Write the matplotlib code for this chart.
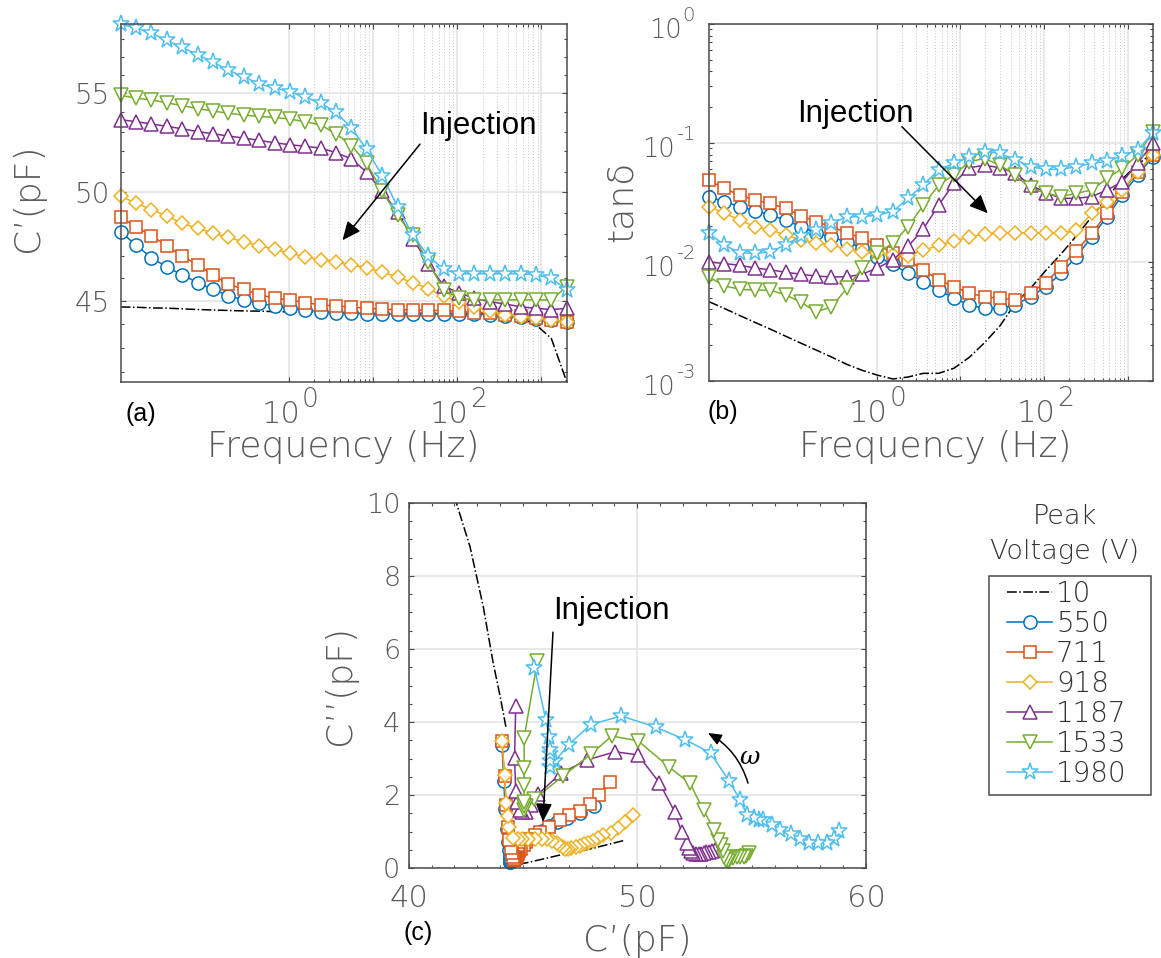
import numpy as np
import matplotlib
matplotlib.use("Agg")
import matplotlib.pyplot as plt
from matplotlib.ticker import FixedLocator, FixedFormatter, NullFormatter
from matplotlib.patches import Rectangle

plt.rcParams['font.family'] = ['DejaVu Sans']
plt.rcParams['font.weight'] = 'light'

# ---------------- data ----------------
freq = [0.01, 0.01524, 0.02321, 0.03535, 0.05385, 0.08204, 0.1250, 0.1904,
        0.2901, 0.4419, 0.6732, 1.025, 1.562, 2.379, 3.624, 5.520, 8.409,
        12.81, 19.51, 29.72, 45.28, 68.98, 105.1, 160.0, 243.8, 371.4,
        565.7, 861.8, 1313.0, 2000.0]

voltages = ['10', '550', '711', '918', '1187', '1533', '1980']

# C' (pF) versus frequency, panel (a)
cp_10 = [44.74, 44.73, 44.70, 44.69, 44.66, 44.63, 44.61, 44.59, 44.57, 44.56,
         44.54, 44.53, 44.52, 44.50, 44.49, 44.48, 44.48, 44.47, 44.47, 44.46,
         44.46, 44.45, 44.45, 44.45, 44.44, 44.40, 44.26, 43.98, 43.40, 41.62]
cp_550 = [48.11, 47.50, 46.92, 46.50, 46.15, 45.81, 45.51, 45.23, 45.05, 44.90,
          44.78, 44.68, 44.61, 44.54, 44.50, 44.47, 44.44, 44.44, 44.44, 44.44,
          44.44, 44.44, 44.44, 44.44, 44.40, 44.36, 44.30, 44.22, 44.16, 44.08]
cp_711 = [48.80, 48.34, 47.93, 47.47, 47.00, 46.61, 46.15, 45.74, 45.51, 45.28,
          45.12, 45.05, 44.93, 44.83, 44.79, 44.73, 44.69, 44.65, 44.62, 44.62,
          44.59, 44.59, 44.55, 44.50, 44.47, 44.40, 44.36, 44.26, 44.19, 44.08]
cp_918 = [49.80, 49.46, 49.16, 48.85, 48.51, 48.28, 48.05, 47.85, 47.65, 47.47,
          47.32, 47.12, 46.97, 46.82, 46.74, 46.59, 46.47, 46.28, 46.05, 45.81,
          45.54, 45.20, 44.97, 44.76, 44.55, 44.40, 44.33, 44.26, 44.19, 44.08]
cp_1187 = [53.62, 53.52, 53.40, 53.28, 53.15, 53.01, 52.90, 52.78, 52.68, 52.56,
           52.44, 52.34, 52.26, 52.17, 51.94, 51.63, 50.96, 50.03, 49.03, 47.80,
           46.64, 45.66, 45.35, 45.12, 44.97, 44.87, 44.75, 44.68, 44.63, 44.68]
cp_1533 = [54.90, 54.75, 54.66, 54.50, 54.36, 54.20, 54.07, 53.96, 53.86, 53.79,
           53.74, 53.65, 53.52, 53.35, 52.90, 52.30, 51.40, 50.03, 48.88, 47.96,
           46.73, 45.48, 45.12, 45.05, 45.05, 45.05, 45.05, 45.05, 45.05, 45.63]
cp_1980 = [58.80, 58.60, 58.30, 57.90, 57.50, 57.10, 56.70, 56.25, 55.90, 55.50,
           55.30, 55.10, 54.80, 54.50, 54.00, 53.20, 52.10, 50.80, 49.30, 47.96,
           47.00, 46.40, 46.20, 46.20, 46.20, 46.20, 46.20, 46.15, 46.00, 45.50]

# tan(delta) versus frequency, panel (b)
td_10 = [0.00464, 0.00407, 0.00355, 0.00311, 0.00273, 0.00238, 0.00208, 0.00182,
         0.00159, 0.00138, 0.00123, 0.00112, 0.00104, 0.00108, 0.00116, 0.00116,
         0.00128, 0.00158, 0.00210, 0.00290, 0.00450, 0.0060, 0.0085, 0.0117,
         0.0166, 0.024, 0.0347, 0.050, 0.066, 0.083]
td_550 = [0.0354, 0.0321, 0.0292, 0.0270, 0.0248, 0.0225, 0.0198, 0.0176, 0.0161,
          0.0148, 0.0130, 0.0111, 0.00955, 0.00803, 0.00684, 0.00582, 0.00495,
          0.00435, 0.00408, 0.00408, 0.00435, 0.00511, 0.0062, 0.00803, 0.0111,
          0.0163, 0.024, 0.0366, 0.0538, 0.0768]
td_711 = [0.0485, 0.0416, 0.0365, 0.0332, 0.0311, 0.0282, 0.0245, 0.0218, 0.0198,
          0.0176, 0.0158, 0.0139, 0.0120, 0.0104, 0.00857, 0.00706, 0.00621,
          0.00546, 0.00512, 0.00495, 0.00480, 0.00552, 0.0067, 0.00914, 0.01245,
          0.0174, 0.0256, 0.039, 0.0574, 0.0793]
td_918 = [0.0292, 0.0257, 0.0225, 0.0198, 0.0186, 0.0169, 0.0153, 0.0144, 0.0139,
          0.0128, 0.0122, 0.0118, 0.0115, 0.0113, 0.0125, 0.0138, 0.0150, 0.0162,
          0.0172, 0.0176, 0.0176, 0.0176, 0.0176, 0.0176, 0.0184, 0.0257, 0.032,
          0.0404, 0.0575, 0.0793]
td_1187 = [0.0100, 0.0097, 0.0094, 0.0089, 0.0086, 0.0082, 0.0079, 0.0076, 0.0075,
           0.0075, 0.0079, 0.0089, 0.0104, 0.0135, 0.0190, 0.0300, 0.0460, 0.0620,
           0.0650, 0.0620, 0.0556, 0.0444, 0.0383, 0.0343, 0.0343, 0.0354, 0.0403,
           0.0473, 0.0675, 0.0994]
td_1533 = [0.0075, 0.0063, 0.0059, 0.0058, 0.0058, 0.0053, 0.0046, 0.0038, 0.0042,
           0.0060, 0.0089, 0.0118, 0.0144, 0.0198, 0.0300, 0.0444, 0.0538, 0.0697,
           0.0740, 0.0650, 0.0538, 0.0416, 0.0378, 0.0354, 0.0378, 0.0403, 0.0505,
           0.0612, 0.0793, 0.1245]
td_1980 = [0.0174, 0.0139, 0.0120, 0.0118, 0.0122, 0.0139, 0.0165, 0.0186, 0.0211,
           0.0240, 0.0240, 0.0248, 0.0265, 0.0343, 0.0444, 0.0593, 0.0675, 0.0760,
           0.0845, 0.0820, 0.0720, 0.0633, 0.0600, 0.0600, 0.0633, 0.0675, 0.0700,
           0.0780, 0.0880, 0.1206]

# 10 V curve of panel (c) (C', C'')
c10_real = [49.38, 48.07, 46.60, 45.50, 44.36, np.nan, 44.25, 44.00, 43.70, 43.26,
            42.68, 42.08]
c10_imag = [0.755, 0.55, 0.36, 0.20, 0.04, np.nan, 3.87, 4.70, 5.60, 7.16,
            8.80, 10.0]

cp_all = [cp_10, cp_550, cp_711, cp_918, cp_1187, cp_1533, cp_1980]
td_all = [td_10, td_550, td_711, td_918, td_1187, td_1533, td_1980]

colors = ['#000000', '#0072BD', '#D95319', '#EDB120', '#7E2F8E', '#77AC30', '#4DBEEE']
markers = ['', 'o', 's', 'D', '^', 'v', '*']
msizes = [0, 9.5, 8.5, 7.6, 10.5, 10.5, 12.5]

# ---------------- figure ----------------
W, H = 1161, 958
fig = plt.figure(figsize=(W / 100, H / 100), dpi=100)


def box(l, t, r, b):
    return [l / W, 1 - b / H, (r - l) / W, (b - t) / H]


ax_a = fig.add_axes(box(120.7, 24, 566.7, 382))
ax_b = fig.add_axes(box(709, 24, 1153, 381))
ax_c = fig.add_axes(box(408.7, 502.7, 866, 868.3))

SPINE = '#4a4a4a'
LABEL = '#5a5a5a'
GRID = '#e2e2e2'


def style_common(ax):
    for s in ax.spines.values():
        s.set_color(SPINE)
        s.set_linewidth(1.1)
    ax.set_axisbelow(True)
    ax.tick_params(which='both', direction='in', top=True, right=True,
                   color=SPINE, labelcolor=LABEL, width=0.8)
    ax.tick_params(which='major', length=3.8)
    ax.tick_params(which='minor', length=2.2)


def plot_series(ax, xs, ys, k):
    if k == 0:
        ax.plot(xs, ys, ls='-.', color='k', lw=1.1, clip_on=True, label=voltages[k])
    else:
        ax.plot(xs, ys, color=colors[k], marker=markers[k], ms=msizes[k],
                mfc='white', mec=colors[k], mew=1.1, lw=1.1, clip_on=False,
                label=voltages[k])


def xlog_label(ax, v, e):
    t = ax.annotate('10', xy=(v, 0), xycoords=('data', 'axes fraction'),
                    xytext=(8, -29.3), textcoords='offset points',
                    ha='right', va='baseline', fontsize=22, color=LABEL)
    ax.annotate(e, xy=(1, 0), xycoords=t, xytext=(1.2, 15.5),
                textcoords='offset points', ha='left', va='baseline',
                fontsize=19, color=LABEL)


def ylog_label(ax, v, e):
    te = ax.annotate(e, xy=(0, v), xycoords=('axes fraction', 'data'),
                     xytext=(-10, 2.5), textcoords='offset points',
                     ha='right', va='baseline', fontsize=14, color=LABEL)
    ax.annotate('10', xy=(0, 0), xycoords=te, xytext=(-0.8, -9.9),
                textcoords='offset points', ha='right', va='baseline',
                fontsize=18.5, color=LABEL)


xmaj = [1, 10, 100, 1000]
xmin = [d * 10 ** e for e in (0, 1, 2) for d in range(2, 10)]

# ---- panel (a)
for k in range(7):
    plot_series(ax_a, freq, cp_all[k], k)
ax_a.set_xscale('log')
ax_a.set_yscale('log')
ax_a.set_xlim(freq[0], freq[-1])
ax_a.set_ylim(41.61, 58.82)
ax_a.xaxis.set_major_locator(FixedLocator(xmaj))
ax_a.xaxis.set_major_formatter(NullFormatter())
ax_a.xaxis.set_minor_locator(FixedLocator(xmin))
ax_a.xaxis.set_minor_formatter(NullFormatter())
ax_a.yaxis.set_major_locator(FixedLocator([45, 50, 55]))
ax_a.yaxis.set_major_formatter(FixedFormatter(['45', '50', '55']))
ax_a.yaxis.set_minor_locator(FixedLocator([v for v in range(42, 59) if v not in (45, 50, 55)]))
ax_a.yaxis.set_minor_formatter(NullFormatter())
style_common(ax_a)
ax_a.grid(True, which='major', color=GRID, lw=1.1)
ax_a.grid(True, which='minor', axis='x', color='#c4c4c4', ls=(0, (1, 2)), lw=0.7)
ax_a.tick_params(axis='y', labelsize=20, pad=8)
xlog_label(ax_a, 1, '0')
xlog_label(ax_a, 100, '2')

# ---- panel (b)
for k in range(7):
    plot_series(ax_b, freq, td_all[k], k)
ax_b.set_xscale('log')
ax_b.set_yscale('log')
ax_b.set_xlim(freq[0], freq[-1])
ax_b.set_ylim(1e-3, 1)
ax_b.xaxis.set_major_locator(FixedLocator(xmaj))
ax_b.xaxis.set_major_formatter(NullFormatter())
ax_b.xaxis.set_minor_locator(FixedLocator(xmin))
ax_b.xaxis.set_minor_formatter(NullFormatter())
ax_b.yaxis.set_major_locator(FixedLocator([1e-3, 1e-2, 1e-1, 1]))
ax_b.yaxis.set_major_formatter(NullFormatter())
ax_b.yaxis.set_minor_locator(FixedLocator([d * 10.0 ** e for e in (-3, -2, -1) for d in range(2, 10)]))
ax_b.yaxis.set_minor_formatter(NullFormatter())
style_common(ax_b)
ax_b.grid(True, which='major', color=GRID, lw=1.1)
ax_b.grid(True, which='minor', axis='x', color='#c4c4c4', ls=(0, (1, 2)), lw=0.7)
xlog_label(ax_b, 1, '0')
xlog_label(ax_b, 100, '2')
for val, ex in [(1e-3, '-3'), (1e-2, '-2'), (1e-1, '-1'), (1.0, '0')]:
    ylog_label(ax_b, val, ex)

# ---- panel (c)
for k in range(7):
    if k == 0:
        plot_series(ax_c, c10_real, c10_imag, 0)
    else:
        cpp = np.array(cp_all[k]) * np.array(td_all[k])
        plot_series(ax_c, cp_all[k], cpp, k)
ax_c.set_xlim(40, 60)
ax_c.set_ylim(0, 10)
ax_c.xaxis.set_major_locator(FixedLocator([40, 50, 60]))
ax_c.xaxis.set_minor_locator(FixedLocator([v for v in range(41, 60) if v != 50]))
ax_c.yaxis.set_major_locator(FixedLocator([0, 2, 4, 6, 8, 10]))
ax_c.yaxis.set_minor_locator(FixedLocator([v + 0.5 for v in range(0, 10)] + [1, 3, 5, 7, 9]))
style_common(ax_c)
ax_c.grid(True, which='major', color=GRID, lw=1.1)
ax_c.tick_params(axis='x', labelsize=22, pad=11.5)
ax_c.tick_params(axis='y', labelsize=19.5, pad=6)

# ---------------- annotations ----------------
arrow_kw = dict(arrowstyle='-|>,head_length=0.45,head_width=0.2', color='k', lw=1.1,
                mutation_scale=25, shrinkA=0, shrinkB=0)
inj_kw = dict(fontsize=22.5, family='Liberation Sans', fontweight='normal', color='k',
              ha='left', va='baseline')

ax_a.annotate('', xy=(4.32, 47.72), xytext=(36.1, 52.37), arrowprops=arrow_kw)
ax_a.text(35.9, 52.9, 'Injection', **inj_kw)

ax_b.annotate('', xy=(21.3, 0.0257), xytext=(2.01, 0.137), arrowprops=arrow_kw)
ax_b.text(0.113, 0.151, 'Injection', **inj_kw)

ax_c.annotate('', xy=(45.87, 1.27), xytext=(46.31, 6.46), arrowprops=arrow_kw)
ax_c.text(46.31, 6.81, 'Injection', **inj_kw)

ax_c.annotate('', xy=(53.09, 3.70), xytext=(54.84, 2.33),
              arrowprops=dict(arrowstyle='-|>,head_length=0.4,head_width=0.17', color='k',
                              lw=1.1, mutation_scale=20, shrinkA=0, shrinkB=0,
                              connectionstyle='arc3,rad=0.2'))
ax_c.text(54.92, 3.04, 'ω', fontstyle='italic', family='DejaVu Serif', fontsize=18,
          fontweight='normal', ha='center', va='center', color='k')


def ftext(x, y, s, **kw):
    fig.text(x / W, 1 - y / H, s, **kw)


lab_kw = dict(fontsize=26, color=LABEL, ha='center', va='center')
ftext(343.7, 447, 'Frequency (Hz)', **lab_kw)
ftext(28, 198, 'C’(pF)', rotation=90, **lab_kw)
ftext(935.7, 447, 'Frequency (Hz)', **lab_kw)
ftext(622, 201, 'tanδ', rotation=90, **lab_kw)
ftext(637, 941, 'C’(pF)', **lab_kw)
ftext(340, 685, 'C’’(pF)', rotation=90, **lab_kw)

pan_kw = dict(fontsize=18, family='Liberation Sans', fontweight='normal', color='k',
              ha='center', va='center')
ftext(141, 414, '(a)', **pan_kw)
ftext(723, 412, '(b)', **pan_kw)
ftext(418, 933, '(c)', **pan_kw)

# ---------------- legend ----------------
ftext(1065, 517, 'Peak', fontsize=19.5, color='#333333', ha='center', va='center')
ftext(1065, 551, 'Voltage (V)', fontsize=19.5, color='#333333', ha='center', va='center')
handles = ax_c.get_lines()
leg = fig.legend(handles, voltages, loc='upper left',
                 bbox_to_anchor=(1007 / W, 1 - 580 / H), borderaxespad=0,
                 frameon=False, fontsize=20,
                 handlelength=1.62, handletextpad=0.14, labelspacing=0.07,
                 borderpad=0.0)
for t in leg.get_texts():
    t.set_color('#333333')
fig.add_artist(Rectangle((989 / W, 1 - 795 / H), (1151 - 989) / W, (795 - 576) / H,
                         transform=fig.transFigure, fill=False, edgecolor=SPINE,
                         linewidth=1.1))

fig.savefig('out.png', dpi=100, facecolor='white')
